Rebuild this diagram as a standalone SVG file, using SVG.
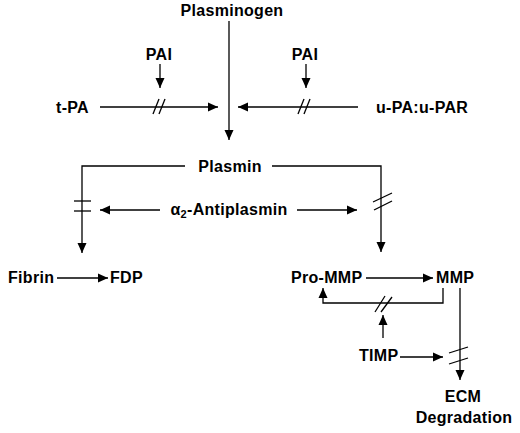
<svg xmlns="http://www.w3.org/2000/svg" width="520" height="433" viewBox="0 0 520 433">
<style>
text{font-family:"Liberation Sans",Arial,sans-serif;font-weight:bold;font-size:16px;fill:#000;letter-spacing:0.3px}
.c{text-anchor:middle}
.l{fill:none;stroke:#000;stroke-width:1.3}
.a{marker-end:url(#ah)}
</style>
<defs>
<marker id="ah" markerUnits="userSpaceOnUse" markerWidth="11" markerHeight="10" refX="10" refY="5" orient="auto" viewBox="0 0 11 10">
<path d="M0,0.5 L10,5 L0,9.5 Z" fill="#000"/>
</marker>
</defs>
<rect width="520" height="433" fill="#fff"/>
<g id="connectors">
<line class="l a" x1="229" y1="21" x2="229" y2="140"/>
<line class="l a" x1="160" y1="64" x2="160" y2="88"/>
<line class="l a" x1="306" y1="64" x2="306" y2="88"/>
<line class="l a" x1="100" y1="107" x2="218" y2="107"/>
<line class="l" x1="153" y1="114" x2="159" y2="99"/>
<line class="l" x1="159" y1="114" x2="165" y2="99"/>
<line class="l a" x1="358" y1="107" x2="238" y2="107"/>
<line class="l" x1="298" y1="114" x2="304" y2="99"/>
<line class="l" x1="304" y1="114" x2="310" y2="99"/>
<polyline class="l a" points="185,166 82,166 82,253"/>
<polyline class="l a" points="272,166 381,166 381,252"/>
<line class="l" x1="74" y1="201" x2="91" y2="201"/>
<line class="l" x1="74" y1="211" x2="91" y2="211"/>
<line class="l" x1="373" y1="202" x2="392" y2="193"/>
<line class="l" x1="374" y1="210" x2="392" y2="201"/>
<line class="l a" x1="160" y1="210" x2="100" y2="210"/>
<line class="l a" x1="297" y1="210" x2="357" y2="210"/>
<line class="l a" x1="57" y1="278" x2="108" y2="278"/>
<line class="l a" x1="366" y1="278" x2="433" y2="278"/>
<polyline class="l a" points="443,288 443,303 323,303 323,288"/>
<line class="l" x1="375" y1="312" x2="385" y2="296"/>
<line class="l" x1="381" y1="312" x2="392" y2="297"/>
<line class="l a" x1="383" y1="338" x2="383" y2="315"/>
<line class="l a" x1="400" y1="357" x2="443" y2="357"/>
<line class="l a" x1="460" y1="288" x2="460" y2="380"/>
<line class="l" x1="449" y1="353" x2="468" y2="347"/>
<line class="l" x1="449" y1="364" x2="468" y2="358"/>
</g>
<g id="plasminogen"><text class="c" x="232" y="16">Plasminogen</text></g>
<g id="pai-left"><text class="c" x="159" y="60">PAI</text></g>
<g id="pai-right"><text class="c" x="305" y="60">PAI</text></g>
<g id="tpa"><text x="56" y="113">t-PA</text></g>
<g id="upa"><text x="376" y="113">u-PA:u-PAR</text></g>
<g id="plasmin"><text class="c" x="230" y="172">Plasmin</text></g>
<g id="antiplasmin"><text class="c" x="229" y="215">α<tspan font-size="11" dy="3">2</tspan><tspan dy="-3">-Antiplasmin</tspan></text></g>
<g id="fibrin"><text x="8" y="283">Fibrin</text></g>
<g id="fdp"><text x="110" y="283">FDP</text></g>
<g id="pro-mmp"><text x="291" y="283">Pro-MMP</text></g>
<g id="mmp"><text x="436" y="283">MMP</text></g>
<g id="timp"><text x="359" y="361">TIMP</text></g>
<g id="ecm"><text class="c" x="463" y="402">ECM</text><text class="c" x="464" y="423">Degradation</text></g>
</svg>
